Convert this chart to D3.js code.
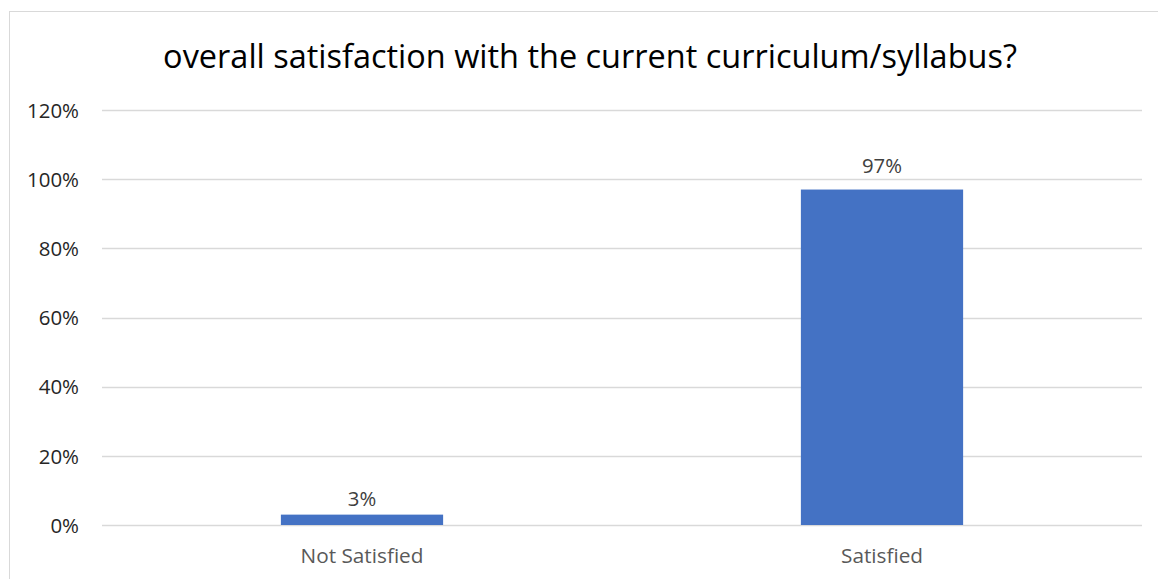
<!DOCTYPE html>
<html><head><meta charset="utf-8">
<script src="https://cdn.jsdelivr.net/npm/d3@7"></script>
<style>html,body{margin:0;padding:0;background:#fff;}svg{display:block;font-family:"Open Sans",sans-serif;}</style>
</head><body>
<svg id="chart" width="1158" height="579"></svg>
<script>
const title = "overall satisfaction with the current curriculum/syllabus?";
const categories = ["Not Satisfied", "Satisfied"];
const values = [0.03, 0.97];
const valueLabels = ["3%", "97%"];
const yTicks = [0, 0.2, 0.4, 0.6, 0.8, 1.0, 1.2];

const FONT = "'Open Sans', sans-serif";
const svg = d3.select("#chart");
const W = 1158, H = 579;
const plot = {left: 102, right: 1142, top: 110, bottom: 525};

// scale font size of a selection so a reference text reaches a target width
function fitSize(sel, sample, target, base) {
  const t = svg.append("text").attr("font-family", FONT).attr("font-size", base).text(sample);
  const w = t.node().getComputedTextLength();
  t.remove();
  const size = base * target / w;
  sel.attr("font-size", size);
  return size;
}

// chart border
svg.append("rect").attr("x", 9.5).attr("y", 11.5).attr("width", W + 10).attr("height", H + 10)
  .attr("fill", "#fff").attr("stroke", "#d9d9d9").attr("stroke-width", 1);

const x = d3.scaleBand().domain(categories).range([plot.left, plot.right]).paddingInner(0.688).paddingOuter(0.344);
const y = d3.scaleLinear().domain([0, 1.2]).range([plot.bottom, plot.top]);

// gridlines
svg.append("g").selectAll("line").data(yTicks).join("line")
  .attr("x1", plot.left).attr("x2", plot.right)
  .attr("y1", d => Math.round(y(d)) + 0.5).attr("y2", d => Math.round(y(d)) + 0.5)
  .attr("stroke", "#d9d9d9").attr("stroke-width", 1.3);

// y axis labels
const yAxis = d3.axisLeft(y).tickValues(yTicks).tickFormat(d3.format(".0%")).tickSize(0).tickPadding(0);
const gy = svg.append("g").attr("transform", "translate(79,0)").call(yAxis);
gy.select(".domain").remove();
gy.selectAll("text").attr("font-family", FONT).attr("fill", "#262626").attr("dy", "0.35em");
fitSize(gy.selectAll("text"), "120%", 52, 20);

// bars
svg.append("g").selectAll("rect").data(values).join("rect")
  .attr("x", (d, i) => x(categories[i]))
  .attr("width", x.bandwidth())
  .attr("y", d => y(d))
  .attr("height", d => y(0) - y(d))
  .attr("fill", "#4472C4");

// data labels
const labelLift = [9, 17];
const dl = svg.append("g").selectAll("text").data(values).join("text")
  .attr("x", (d, i) => x(categories[i]) + x.bandwidth() / 2)
  .attr("y", (d, i) => y(d) - labelLift[i])
  .attr("text-anchor", "middle").attr("font-family", FONT).attr("fill", "#404040")
  .text((d, i) => valueLabels[i]);
fitSize(dl, "97%", 40, 20);

// x axis labels
const xAxis = d3.axisBottom(x).tickSize(0).tickPadding(0);
const gx = svg.append("g").attr("transform", "translate(0,563)").call(xAxis);
gx.select(".domain").remove();
gx.selectAll("text").attr("font-family", FONT).attr("fill", "#595959").attr("dy", 0);
fitSize(gx.selectAll("text"), "Not Satisfied", 123, 20);

// title
const tt = svg.append("text").attr("x", (163 + 1017) / 2).attr("y", 68).attr("text-anchor", "middle")
  .attr("font-family", FONT).attr("fill", "#000").text(title);
fitSize(tt, title, 854, 28);
</script>
</body></html>
